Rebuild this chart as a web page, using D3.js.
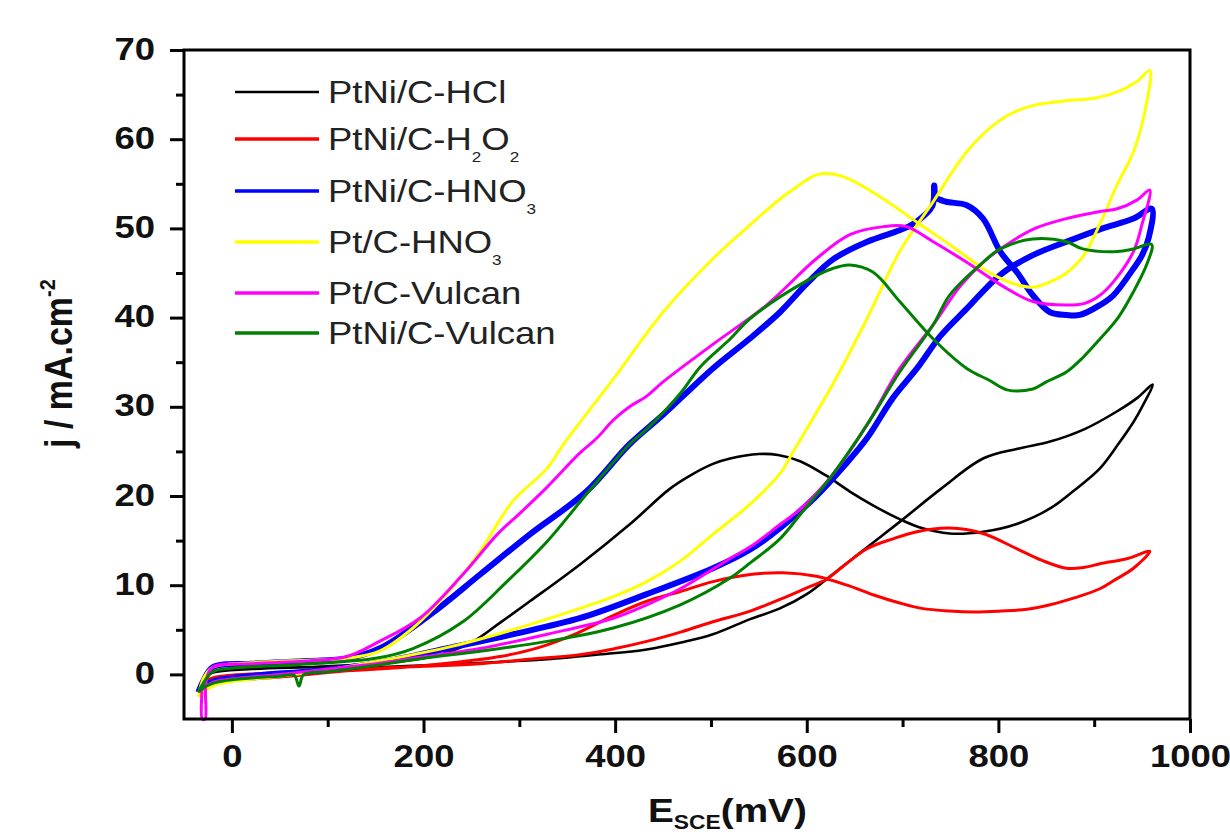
<!DOCTYPE html>
<html><head><meta charset="utf-8">
<script src="https://cdn.jsdelivr.net/npm/d3@7"></script>
<style>body{margin:0;background:#fff}</style>
</head><body><svg id="c" width="1230" height="837"></svg>
<script>
// ---- data ----
const xTicks = [0, 200, 400, 600, 800, 1000];
const xMinor = [100, 300, 500, 700, 900];
const yTicks = [0, 10, 20, 30, 40, 50, 60, 70];
const yMinor = [5, 15, 25, 35, 45, 55, 65];
const seriesColors = ["#000000", "#ff0000", "#0000ff", "#ffff00", "#ff00ff", "#008000"];
// legend labels as [text, isSubscript] segments
const legendLabels = [
  [["PtNi/C-HCl", 0]],
  [["PtNi/C-H", 0], ["2", 1], ["O", 0], ["2", 1]],
  [["PtNi/C-HNO", 0], ["3", 1]],
  [["Pt/C-HNO", 0], ["3", 1]],
  [["Pt/C-Vulcan", 0]],
  [["PtNi/C-Vulcan", 0]]
];
// each loop: forward scan then backward scan, [E (mV), j (mA/cm2)]
const hclLoop = [[-35,-1.8],[-30,-1.2],[-20,-0.6],[0,-0.2],[50,0.2],[100,0.5],[150,0.8],[224,1.1],[280,1.4],[329,1.7],[380,2.2],[433,2.8],[470,3.6],[502,4.5],[541,6.2],[572,7.4],[600,9.0],[621,10.7],[660,14.0],[697,17.1],[740,20.8],[784,24.2],[820,25.3],[854,26.1],[890,27.5],[924,29.5],[945,31],[961,32.5],
  [950,30.0],[941,28.3],[925,25.8],[906,23.1],[880,20.7],[854,18.6],[820,16.9],[784,16.0],[749,15.8],[720,16.4],[697,17.4],[670,18.9],[645,20.5],[620,22.3],[593,23.9],[570,24.6],[550,24.7],[520,24.2],[502,23.6],[480,22.4],[457,20.8],[415,16.8],[363,12.3],[311,8.2],[280,5.8],[252,3.7],[220,2.3],[180,1.5],[100,0.9],[20,0.6],[-20,0.2],[-30,-0.5],[-35,-1.8]];
const h2o2Loop = [[-35,-2.0],[-30,-1.5],[-20,-1.0],[0,-0.7],[50,-0.3],[100,0.2],[154,0.7],[200,0.9],[259,1.2],[310,1.7],[363,2.2],[400,2.9],[433,3.7],[470,4.8],[502,5.9],[541,7.1],[572,8.4],[600,9.7],[621,10.7],[640,12.3],[663,14.1],[690,15.2],[715,16.0],[749,16.4],[784,15.8],[819,14.1],[845,12.8],[871,11.9],[890,12.0],[906,12.4],[935,13.0],[958,13.8],
  [941,11.9],[920,10.5],[906,9.6],[880,8.6],[854,7.8],[830,7.3],[802,7.1],[775,7.0],[749,7.1],[720,7.4],[697,8.0],[670,8.9],[645,9.9],[610,11.0],[575,11.4],[541,11.2],[502,10.4],[468,9.3],[433,8.2],[400,6.7],[360,4.6],[320,3.0],[280,2.0],[230,1.3],[180,0.8],[100,0.3],[30,0.1],[-20,-0.4],[-30,-1.0],[-35,-2.0]];
const hno3Loop = [[-35,-2],[-30,-1.4],[-20,-0.8],[0,-0.4],[50,0.1],[100,0.5],[154,1.3],[224,2.9],[293,4.5],[363,6.3],[433,9.0],[502,11.9],[541,14.0],[572,16.4],[610,20.0],[640,23.5],[663,26.5],[690,31],[715,34.3],[740,38],[767,41.0],[802,44.8],[836,47.0],[871,48.5],[906,49.9],[941,51.1],[960,52.2],
  [957,49],[950,47],[941,45.5],[920,42.5],[906,41.4],[885,40.3],[871,40.3],[854,40.6],[836,42.5],[820,45.0],[802,47.4],[784,51.1],[767,52.6],[745,53.0],[735,53.5],[733,54.8],[731,52.5],[711,50.5],[697,49.8],[663,48.5],[627,46.5],[600,43.8],[572,40.6],[540,37.6],[502,34.3],[450,29.1],[415,25.8],[370,20.5],[311,15.7],[259,11.2],[207,6.7],[154,2.9],[120,1.8],[80,1.5],[20,1.2],[-20,0.8],[-30,-0.8],[-35,-2]];
const ptHno3Loop = [[-35,-2.5],[-30,-2.0],[-20,-1.3],[0,-0.8],[50,-0.2],[100,0.5],[154,1.5],[224,3.0],[293,5.0],[363,7.4],[400,8.8],[433,10.4],[468,12.7],[502,15.7],[540,19.0],[572,22.5],[586,25.0],[627,32.5],[663,39.9],[697,47.4],[732,53.0],[767,58.6],[800,62.0],[830,63.6],[870,64.3],[900,64.6],[924,65.3],[945,66.5],[958,67.7],
  [955,64.2],[941,58.6],[924,54.9],[906,50.5],[888,46.8],[871,45.0],[854,44.0],[836,43.4],[819,43.7],[800,44.5],[784,45.5],[749,48.2],[715,50.7],[680,53.3],[645,55.5],[627,56.1],[610,56.0],[586,54.4],[572,53.3],[541,50.4],[502,46.6],[450,40.6],[398,33.1],[346,25.8],[329,23.1],[293,19.4],[259,13.8],[224,9.0],[189,5.2],[154,2.6],[120,1.8],[80,1.6],[20,1.3],[-20,0.8],[-30,-0.5],[-35,-2.5]];
const ptVulcanLoop = [[-35,-2],[-30,-1.5],[-20,-0.9],[0,-0.5],[50,0],[100,0.6],[150,1.2],[189,1.8],[259,2.9],[329,4.5],[398,6.3],[433,7.8],[468,9.6],[520,13.0],[541,14.3],[572,16.8],[593,18.5],[627,22.4],[663,28.0],[697,34.3],[732,39.2],[760,43.5],[784,46.2],[802,47.7],[836,49.9],[871,51.1],[906,51.9],[924,52.2],[945,53.2],[958,54.3],
  [950,50.5],[941,47.4],[920,44.0],[906,42.5],[890,41.6],[871,41.4],[836,41.8],[802,43.7],[767,46.2],[732,48.5],[704,50.2],[680,50.2],[645,49.3],[610,46.6],[558,41.4],[502,37.0],[450,32.8],[433,31.2],[415,30.0],[398,28.5],[381,26.5],[363,24.8],[329,21.0],[300,18.0],[277,15.7],[241,11.2],[196,6.3],[154,3.7],[120,2.0],[80,1.5],[20,1.2],[-20,0.8],[-27,-0.8],[-28,-5],[-31,-5],[-32,-1.5],[-35,-2]];
const ptniVulcanLoop = [[-35,-2],[-30,-1.5],[-20,-1.0],[0,-0.6],[50,-0.2],[65,-0.1],[70,-1.3],[75,0],[100,0.3],[150,1.0],[200,1.8],[259,2.6],[329,3.7],[398,5.2],[468,7.8],[520,10.8],[541,12.5],[572,15.2],[593,17.9],[627,22.4],[663,28.0],[697,33.9],[732,39.2],[749,42.5],[784,46.2],[802,47.7],[836,48.8],[871,48.5],[888,47.7],[924,47.4],[941,47.7],[960,48.2],
  [955,46],[941,42.9],[925,40],[906,37.6],[888,35.5],[871,33.9],[850,32.8],[836,32.0],[809,31.9],[790,33],[767,34.3],[732,37.6],[697,41.8],[669,45.1],[645,45.9],[627,45.5],[593,43.7],[541,39.9],[520,37.6],[489,34.5],[468,31.5],[433,27.5],[415,25.8],[370,20.2],[329,14.9],[287,10.4],[241,5.9],[189,2.9],[150,1.8],[100,1.3],[50,1.0],[0,0.7],[-20,0.3],[-30,-1.0],[-35,-2]];
const loops = [hclLoop, h2o2Loop, hno3Loop, ptHno3Loop, ptVulcanLoop, ptniVulcanLoop];

// ---- layout ----
const svg = d3.select("#c");
const L = 184, R = 1190, T = 50, B = 719;
const x = d3.scaleLinear().domain([-50, 1000]).range([L, R]);
const y = d3.scaleLinear().domain([-5, 70]).range([B, T]);
const font = "Arial, 'Liberation Sans', sans-serif";
const SX = 1.14;
const lineWidths = [2.6, 3, 6, 3, 3, 3];

// curves
const line = d3.line().x(d => x(d[0])).y(d => y(d[1])).curve(d3.curveCatmullRom.alpha(0.5));
svg.append("g").selectAll("path").data(loops).join("path")
  .attr("d", line).attr("fill", "none")
  .attr("stroke", (d, i) => seriesColors[i])
  .attr("stroke-width", (d, i) => lineWidths[i])
  .attr("stroke-linejoin", "round");

// axes
function styleAxis(g) {
  g.select(".domain").remove();
  g.selectAll(".tick line").attr("stroke", "#000").attr("stroke-width", 3);
}
const xAx = svg.append("g").attr("transform", `translate(0,${B})`)
  .call(d3.axisBottom(x).tickValues(xTicks).tickSize(14).tickSizeOuter(0).tickFormat(d3.format("d")));
styleAxis(xAx);
xAx.selectAll(".tick text").attr("y", 48).attr("dy", 0)
  .attr("font-size", 32).attr("font-weight", "bold").attr("font-family", font).attr("fill", "#111")
  .attr("transform", `scale(${SX},1)`);
const xMin = svg.append("g").attr("transform", `translate(0,${B})`)
  .call(d3.axisBottom(x).tickValues(xMinor).tickSize(8).tickFormat(""));
styleAxis(xMin);

const yAx = svg.append("g").attr("transform", `translate(${L},0)`)
  .call(d3.axisLeft(y).tickValues(yTicks).tickSize(14).tickSizeOuter(0));
styleAxis(yAx);
yAx.selectAll(".tick text").attr("x", -29 / SX).attr("y", 9).attr("dy", 0)
  .attr("font-size", 32).attr("font-weight", "bold").attr("font-family", font).attr("fill", "#111")
  .attr("transform", `scale(${SX},1)`);
const yMin = svg.append("g").attr("transform", `translate(${L},0)`)
  .call(d3.axisLeft(y).tickValues(yMinor).tickSize(8).tickFormat(""));
styleAxis(yMin);

// frame
svg.append("rect").attr("x", L).attr("y", T).attr("width", R - L).attr("height", B - T)
  .attr("fill", "none").attr("stroke", "#000").attr("stroke-width", 3);

// legend
const legendRowY = [92, 139, 191, 242, 293, 333];
const lg = svg.append("g");
legendLabels.forEach((segs, i) => {
  const yy = legendRowY[i];
  lg.append("line").attr("x1", 235).attr("x2", 319).attr("y1", yy).attr("y2", yy)
    .attr("stroke", seriesColors[i]).attr("stroke-width", i === 0 ? 2.6 : 3.5);
  const t = lg.append("text").attr("transform", `translate(328,${yy + 11}) scale(${SX},1)`)
    .attr("font-family", font).attr("font-size", 32).attr("fill", "#222");
  segs.forEach(([s, sub]) => {
    const ts = t.append("tspan").text(s);
    if (sub) ts.attr("font-size", 15).attr("dy", 12);
    else ts.attr("dy", t.selectAll("tspan").size() > 1 ? -12 : 0);
  });
});

// y label
const yl = svg.append("text").attr("transform", `translate(72,448) scale(${SX},1) rotate(-90)`)
  .attr("font-family", font).attr("font-size", 34).attr("font-weight", "bold").attr("fill", "#111");
yl.append("tspan").text("j / mA.cm");
yl.append("tspan").text("-2").attr("font-size", 20).attr("dy", -15);

// x label
const xl = svg.append("text").attr("transform", `translate(648,822) scale(${SX},1)`)
  .attr("font-family", font).attr("font-size", 34).attr("font-weight", "bold").attr("fill", "#111");
xl.append("tspan").text("E");
xl.append("tspan").text("SCE").attr("font-size", 20).attr("dy", 7);
xl.append("tspan").text("(mV)").attr("dy", -7);
</script></body></html>
